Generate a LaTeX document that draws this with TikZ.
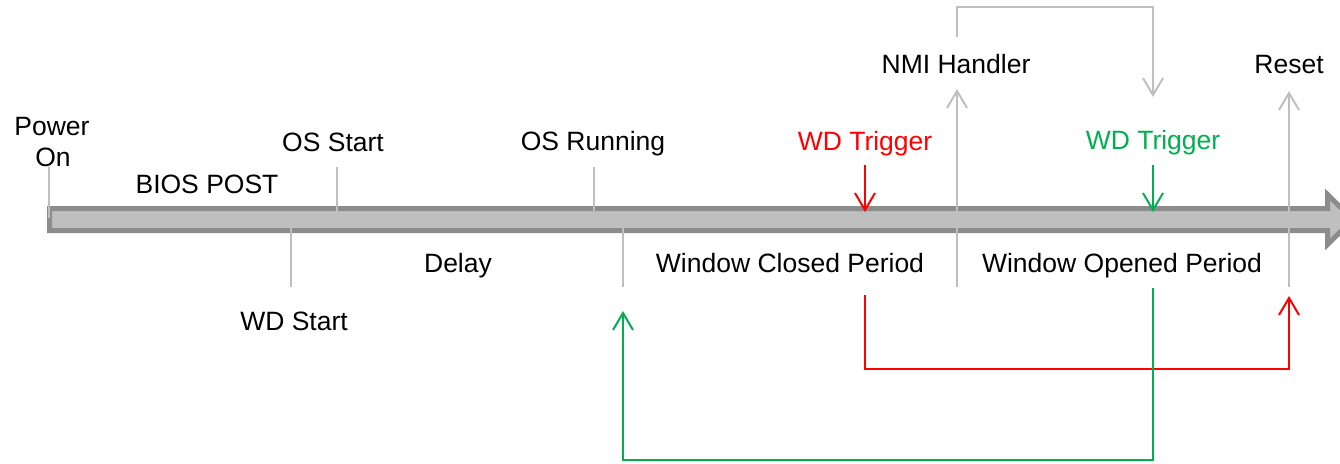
\documentclass[tikz,border=0pt]{standalone}
\usepackage{fontspec}
\setmainfont{Liberation Sans}
\usetikzlibrary{arrows.meta}
\definecolor{lgray}{RGB}{191,191,191}
\definecolor{dgray}{RGB}{140,140,140}
\definecolor{tred}{RGB}{255,0,0}
\definecolor{tgreen}{RGB}{0,176,80}
\begin{document}
\begin{tikzpicture}[x=1pt,y=-1pt,
  lbl/.style={font=\fontsize{26.5}{31}\selectfont, inner sep=0pt, anchor=base},
  tick/.style={draw=lgray, line width=2pt},
  tip/.style={-{Straight Barb[length=17pt,width=20pt,line width=2pt]}},
  redline/.style={draw=tred, line width=2pt},
  grnline/.style={draw=tgreen, line width=2pt}]
\useasboundingbox (0,0) rectangle (1340,463);
% timeline bar
\path[fill=lgray, draw=dgray, line width=5pt, line join=miter]
  (49.5,208.5) -- (1327.5,208.5) -- (1327.5,194.5) -- (1353,219.5)
  -- (1327.5,244.5) -- (1327.5,230.5) -- (49.5,230.5) -- cycle;
% labels
\node[lbl] (pwr) at (52,135) {Power};
\node[lbl] (on) at (53,166) {On};
\node[lbl] (bios) at (207,193) {BIOS POST};
\node[lbl] (oss) at (333,151) {OS Start};
\node[lbl] (wds) at (294,330) {WD Start};
\node[lbl] (osr) at (593,150) {OS Running};
\node[lbl] (dly) at (458,272) {Delay};
\node[lbl] (wcp) at (790,272) {Window Closed Period};
\node[lbl] (wop) at (1122,272) {Window Opened Period};
\node[lbl, text=tred] (trgr) at (865,150) {WD Trigger};
\node[lbl, text=tgreen] (trgg) at (1153,149) {WD Trigger};
\node[lbl] (nmi) at (956,73) {NMI Handler};
\node[lbl] (rst) at (1289,73) {Reset};
% coordinates
\coordinate (pwrT) at (49,167);  \coordinate (pwrB) at (49,218);
\coordinate (wdsT) at (291,212); \coordinate (wdsB) at (291,287);
\coordinate (ossT) at (337,167); \coordinate (ossB) at (337,227);
\coordinate (osrT) at (594,167); \coordinate (osrB) at (594,211);
\coordinate (dlyT) at (623,212); \coordinate (dlyB) at (623,287);
\coordinate (nmiB) at (957,287); \coordinate (nmiT) at (957,89);
\coordinate (rstB) at (1289,287); \coordinate (rstT) at (1289,91);
\coordinate (nlS) at (957,37); \coordinate (nlC) at (957,7); \coordinate (nlT) at (1153,97);
\coordinate (trT) at (865,165); \coordinate (trB) at (865,212);
\coordinate (tgT) at (1153,165); \coordinate (tgB) at (1153,212);
\coordinate (rlS) at (865,295); \coordinate (rlC) at (865,369); \coordinate (rlT) at (1289,296);
\coordinate (glS) at (1153,288); \coordinate (glC) at (1153,460); \coordinate (glT) at (623,311);
% ticks
\draw[tick] (pwrT) -- (pwrB);
\draw[tick] (wdsT) -- (wdsB);
\draw[tick] (ossT) -- (ossB);
\draw[tick] (osrT) -- (osrB);
\draw[tick] (dlyT) -- (dlyB);
\draw[tick, tip] (nmiB) -- (nmiT);
\draw[tick, tip] (rstB) -- (rstT);
\draw[tick, tip] (nlS) -- (nlC) -| (nlT);
% triggers
\draw[redline, tip] (trT) -- (trB);
\draw[grnline, tip] (tgT) -- (tgB);
\draw[redline, tip] (rlS) -- (rlC) -| (rlT);
\draw[grnline, tip] (glS) -- (glC) -| (glT);
\end{tikzpicture}
\end{document}
